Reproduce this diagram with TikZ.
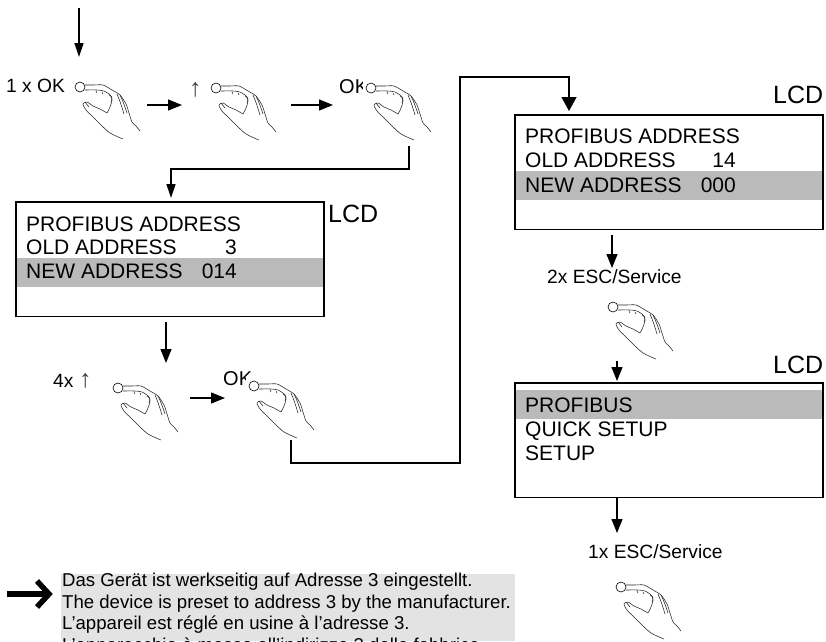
\documentclass[tikz,border=0pt]{standalone}
\usepackage{fontspec}
\setmainfont{Liberation Sans}
\usetikzlibrary{arrows.meta}
\definecolor{bandgrey}{gray}{0.73}
\definecolor{notegrey}{gray}{0.89}
\tikzset{
  x=1pt,y=-1pt,
  conn/.style={line width=1.3pt,-{Triangle[length=14pt,width=11pt]}},
  lcdbox/.style={draw,line width=1.3pt,fill=none,anchor=north west,inner sep=0pt,outer sep=0pt,minimum width=308pt,minimum height=114.5pt},
  lcdtext/.style={font=\fontsize{21}{24}\selectfont,anchor=base west,inner sep=0pt},
  lcdnum/.style={lcdtext,anchor=base east},
  keytext/.style={font=\fontsize{19.2}{22}\selectfont,inner sep=0pt,anchor=base west},
  oktext/.style={font=\fontsize{20}{22}\selectfont,inner sep=0pt,anchor=base west},
  uparrow/.style={font=\fontsize{25}{28}\selectfont,inner sep=0pt,anchor=base west,text=black!75},
  notetext/.style={font=\fontsize{18.6}{22}\selectfont,inner sep=0pt,anchor=base west},
  lcdlabel/.style={font=\fontsize{25}{28}\selectfont,inner sep=0pt,anchor=base west},
  handline/.style={line width=0.55pt,line join=round,draw=black!85},
  hand/.pic={
    \fill[white] (-8.5,-10) rectangle (62,55);
    \draw[handline] plot[smooth,tension=0.45] coordinates {(5,-2) (14,-2) (23,-2) (32,3) (40,8) (46,17) (49,26) (52,35) (56,39) (60,44)};
    \draw[handline] plot[smooth,tension=0.45] coordinates {(5,3) (17,3) (24,4) (30,8) (32,13) (30,20) (27,26)};
    \draw[handline] plot[smooth,tension=0.45] coordinates {(27,26) (20,22) (13,19) (7,15) (3,17) (6,23) (13,30) (20,37) (30,46) (43,52)};
    \draw[handline] (37,7) .. controls (40,14) and (42,20) .. (44,27);
    \draw[handline] (40,8) .. controls (43,14) and (45,20) .. (47,26);
    \draw[handline] (29,8) .. controls (32,9) and (33,11) .. (31,15);
    \draw[handline] (5,15) -- (9,20);
    \draw[handline] (16,4) -- (17,6);
    \draw[handline] (22,5) -- (23,7);
    \draw[line width=0.6pt,fill=white] (0,0) circle (5);
  }
}
\begin{document}
\begin{tikzpicture}
\clip (0,0) rectangle (826,641);
\fill[white] (0,0) rectangle (826,641);

% key labels
\node[keytext] (t1) at (6,92) {1 x OK};
\node[uparrow] (t2) at (189,96) {↑};
\node[oktext] (t3) at (339,93) {OK};
\node[keytext] (t4) at (53,387) {4x};
\node[uparrow] (t4b) at (79,387) {↑};
\node[oktext] (t5) at (223,385) {OK};
\node[keytext] (t6) at (547,283) {2x ESC/Service};
\node[keytext] (t7) at (588,558) {1x ESC/Service};

% hands
\pic at (80,87) {hand};
\pic at (216,88) {hand};
\pic at (371,88) {hand};
\pic at (118,388) {hand};
\pic at (254,386) {hand};
\pic at (613,307) {hand};
\pic at (621,587) {hand};

% anchors for free ends
\coordinate (h1top) at (79,8);
\coordinate (h1in) at (79,57);
\coordinate (a2s) at (147,105);
\coordinate (a2e) at (182,105);
\coordinate (a3s) at (291,105);
\coordinate (a3e) at (333,105);
\coordinate (h3out) at (409,146);
\coordinate (b1in) at (171,198);
\coordinate (b1out) at (166,322);
\coordinate (h4in) at (166,363);
\coordinate (a5s) at (190,398);
\coordinate (a5e) at (225,398);
\coordinate (h5out) at (291,440);
\coordinate (b2in) at (569,111);
\coordinate (b2out) at (612,235);
\coordinate (h6in) at (612,268);
\coordinate (h6out) at (617,361);
\coordinate (b3in) at (617,381);
\coordinate (b3out) at (617,497);
\coordinate (h7in) at (617,533);

% LCD 1
\fill[bandgrey] (17,258) rectangle (323,287);
\node[lcdbox] (b1) at (16,202) {};
\node[lcdtext] (b1a) at (26,231) {PROFIBUS ADDRESS};
\node[lcdtext] (b1b) at (26,254) {OLD ADDRESS};
\node[lcdtext] (b1c) at (26,278) {NEW ADDRESS};
\node[lcdnum] (b1d) at (237,254) {3};
\node[lcdnum] (b1e) at (237,278) {014};
\node[lcdlabel] (l1) at (328,222) {LCD};

% LCD 2
\fill[bandgrey] (516,171) rectangle (822,200);
\node[lcdbox] (b2) at (515,115) {};
\node[lcdtext] (b2a) at (525,143) {PROFIBUS ADDRESS};
\node[lcdtext] (b2b) at (525,167) {OLD ADDRESS};
\node[lcdtext] (b2c) at (525,192) {NEW ADDRESS};
\node[lcdnum] (b2d) at (736,167) {14};
\node[lcdnum] (b2e) at (736,192) {000};
\node[lcdlabel] (l2) at (773,103) {LCD};

% LCD 3
\fill[bandgrey] (516,390) rectangle (822,419);
\node[lcdbox] (b3) at (515,383) {};
\node[lcdtext] (b3a) at (525,412) {PROFIBUS};
\node[lcdtext] (b3b) at (525,436) {QUICK SETUP};
\node[lcdtext] (b3c) at (525,460) {SETUP};
\node[lcdlabel] (l3) at (773,373) {LCD};

% connectors
\draw[conn,-{Triangle[length=14pt,width=9pt]}] (h1top) -- (h1in);
\draw[conn] (a2s) -- (a2e);
\draw[conn] (a3s) -- (a3e);
\draw[conn,-{Triangle[length=14pt,width=9pt]}] (h3out) -- ++(0,23) -| (b1in);
\draw[conn] (b1out) -- (h4in);
\draw[conn] (a5s) -- (a5e);
\draw[conn,-{Triangle[length=14pt,width=15pt]}] (h5out) -- ++(0,23) -- ++(169,0) -- ++(0,-386) -| (b2in);
\draw[conn] (b2out) -- (h6in);
\draw[conn] (h6out) -- (b3in);
\draw[conn] (b3out) -- (h7in);

% note
\fill[notegrey] (61,574) rectangle (515,641);
\node[notetext] (n1) at (62,586) {Das Gerät ist werkseitig auf Adresse 3 eingestellt.};
\node[notetext] (n2) at (62,608) {The device is preset to address 3 by the manufacturer.};
\node[notetext] (n3) at (62,629) {L’appareil est réglé en usine à l’adresse 3.};
\node[notetext] (n4) at (62,651) {L’apparecchio è messo all’indirizzo 3 dalla fabbrica.};
\draw[line width=5.5pt] (7,594) -- (49,594);
\draw[line width=5.5pt,line join=miter] (37,581) -- (49,594) -- (37,607);
\end{tikzpicture}
\end{document}
